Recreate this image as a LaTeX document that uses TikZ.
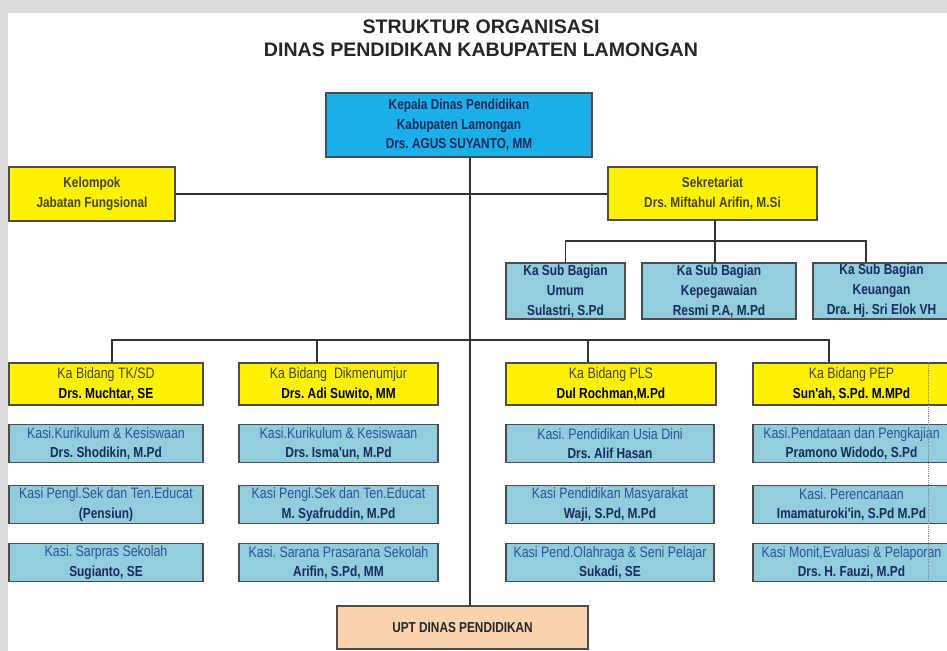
\documentclass[tikz,border=0pt]{standalone}
\usepackage{fontspec}
\setmainfont{Liberation Sans}
\newfontfamily\narrowfont[FakeStretch=0.82]{Liberation Sans}
\usetikzlibrary{positioning,calc}
\frenchspacing

\definecolor{kepalablue}{RGB}{28,174,232}
\definecolor{kasiblue}{RGB}{146,205,222}
\definecolor{uptpeach}{RGB}{250,210,176}
\definecolor{navytext}{RGB}{22,44,92}
\definecolor{bluetext}{RGB}{40,84,150}
\definecolor{olivetext}{RGB}{70,70,20}

\newcommand{\kasi}[2]{{\color{bluetext}\fontsize{12.9}{17}\selectfont #1}\\{\color{navytext}\bfseries #2}}
\newcommand{\bidang}[2]{{\color{olivetext}\fontsize{12.9}{17}\selectfont #1}\\{\bfseries #2}}

\tikzset{
  orgbox/.style={draw=black!70, line width=1.5pt, align=center, inner sep=0pt,
    font=\narrowfont\fontsize{12.4}{16.5}\selectfont},
  boxsize/.style 2 args={minimum width=#1*0.03cm, minimum height=#2*0.03cm},
  kasibox/.style={orgbox, fill=kasiblue, boxsize={#1}{38}},
  bidangbox/.style={orgbox, fill=yellow, boxsize={#1}{42}},
  subbox/.style={orgbox, fill=kasiblue, boxsize={#1}{56}, text=navytext,
    font=\narrowfont\bfseries\fontsize{12.4}{17}\selectfont},
  bus/.style={line width=0.9pt, black!80},
}

\begin{document}
\begin{tikzpicture}[x=0.03cm,y=-0.03cm]
  \useasboundingbox (0,0) rectangle (947,651);
  \clip (0,0) rectangle (947,651);
  \fill[black!14] (0,0) rectangle (947,651);
  \fill[white] (8,13) rectangle (947,651);

  \node[align=center, text=black!85, font=\bfseries\fontsize{16.7}{19.6}\selectfont] (title) at (481,38.5)
    {STRUKTUR ORGANISASI\\DINAS PENDIDIKAN KABUPATEN LAMONGAN};

  % top level
  \node[orgbox, fill=kepalablue, boxsize={266}{64}, text=navytext,
    font=\narrowfont\bfseries\fontsize{12.3}{16.6}\selectfont] (kepala) at (459,125)
    {Kepala Dinas Pendidikan\\Kabupaten Lamongan\\Drs. AGUS SUYANTO, MM};
  \node[orgbox, fill=yellow, boxsize={166}{54}, text=olivetext,
    font=\narrowfont\bfseries\fontsize{12.3}{16.6}\selectfont] (kelompok) at (92,194)
    {Kelompok\\Jabatan Fungsional};
  \node[orgbox, fill=yellow, boxsize={209}{53}, text=olivetext,
    font=\narrowfont\bfseries\fontsize{12.3}{16.6}\selectfont] (sekretariat) at (712.5,193.5)
    {Sekretariat\\Drs. Miftahul Arifin, M.Si};

  % sub bagian
  \node[subbox=119] (umum) at (565.5,291) {Ka Sub Bagian\\Umum\\Sulastri, S.Pd};
  \node[subbox=154] (kepegawaian) at (719,291) {Ka Sub Bagian\\Kepegawaian\\Resmi P.A, M.Pd};
  \node[subbox=137] (keuangan) at (881.5,291) {Ka Sub Bagian\\Keuangan\\Dra. Hj. Sri Elok VH};

  % bidang
  \node[bidangbox=194] (tksd) at (106,384) {\bidang{Ka Bidang TK/SD}{Drs. Muchtar, SE}};
  \node[bidangbox=199] (dikmen) at (338.5,384) {\bidang{Ka Bidang\ \ Dikmenumjur}{Drs. Adi Suwito, MM}};
  \node[bidangbox=210] (pls) at (611,384) {\bidang{Ka Bidang PLS}{Dul Rochman,M.Pd}};
  \node[bidangbox=197] (pep) at (851.5,384) {\bidang{Ka Bidang PEP}{Sun'ah, S.Pd. M.MPd}};

  % seksi
  \node[kasibox=194] (tksda) at (106,443.5) {\kasi{Kasi.Kurikulum \& Kesiswaan}{Drs. Shodikin, M.Pd}};
  \node[kasibox=194] (tksdb) at (106,504.5) {\kasi{Kasi Pengl.Sek dan Ten.Educat}{(Pensiun)}};
  \node[kasibox=194] (tksdc) at (106,562.5) {\kasi{Kasi. Sarpras Sekolah}{Sugianto, SE}};
  \node[kasibox=199] (dikmena) at (338.5,443.5) {\kasi{Kasi.Kurikulum \& Kesiswaan}{Drs. Isma'un, M.Pd}};
  \node[kasibox=199] (dikmenb) at (338.5,504.5) {\kasi{Kasi Pengl.Sek dan Ten.Educat}{M. Syafruddin, M.Pd}};
  \node[kasibox=199] (dikmenc) at (338.5,562.5) {\kasi{Kasi. Sarana Prasarana Sekolah}{Arifin, S.Pd, MM}};
  \node[kasibox=208] (plsa) at (610,443.5) {\kasi{Kasi. Pendidikan Usia Dini}{Drs. Alif Hasan}};
  \node[kasibox=208] (plsb) at (610,504.5) {\kasi{Kasi Pendidikan Masyarakat}{Waji, S.Pd, M.Pd}};
  \node[kasibox=208] (plsc) at (610,562.5) {\kasi{Kasi Pend.Olahraga \& Seni Pelajar}{Sukadi, SE}};
  \node[kasibox=197] (pepa) at (851.5,443.5) {\kasi{Kasi.Pendataan dan Pengkajian}{Pramono Widodo, S.Pd}};
  \node[kasibox=197] (pepb) at (851.5,504.5) {\kasi{Kasi. Perencanaan}{Imamaturoki'in, S.Pd M.Pd}};
  \node[kasibox=197] (pepc) at (851.5,562.5) {\kasi{Kasi Monit,Evaluasi \& Pelaporan}{Drs. H. Fauzi, M.Pd}};

  \node[orgbox, fill=uptpeach, boxsize={251}{43}, text=black!85,
    font=\narrowfont\bfseries\fontsize{12.3}{16}\selectfont] (upt) at (462.5,627.5) {UPT DINAS PENDIDIKAN};

  % garis
  \coordinate (spine) at (470,340);
  \coordinate (subbus) at (715,241);
  \draw[bus] (kepala.south -| spine) -- (upt.north -| spine);
  \draw[bus] (kelompok.east) -- (kelompok.east -| sekretariat.west);
  \draw[bus] (sekretariat.south -| subbus) -- (kepegawaian.north -| subbus);
  \draw[bus] (umum.north) |- (subbus) -| ([xshift=-0.465cm]keuangan.north);
  \draw[bus] ([xshift=0.18cm]tksd.north) |- (spine) -| ([xshift=-0.675cm]pep.north);
  \draw[bus] ([xshift=-0.645cm]dikmen.north) |- (spine);
  \draw[bus] ([xshift=-0.69cm]pls.north) |- (spine);
  \draw[black!45, densely dotted, line width=0.6pt] (pep.north -| 928,0) -- (pepc.south -| 928,0);
\end{tikzpicture}
\end{document}
